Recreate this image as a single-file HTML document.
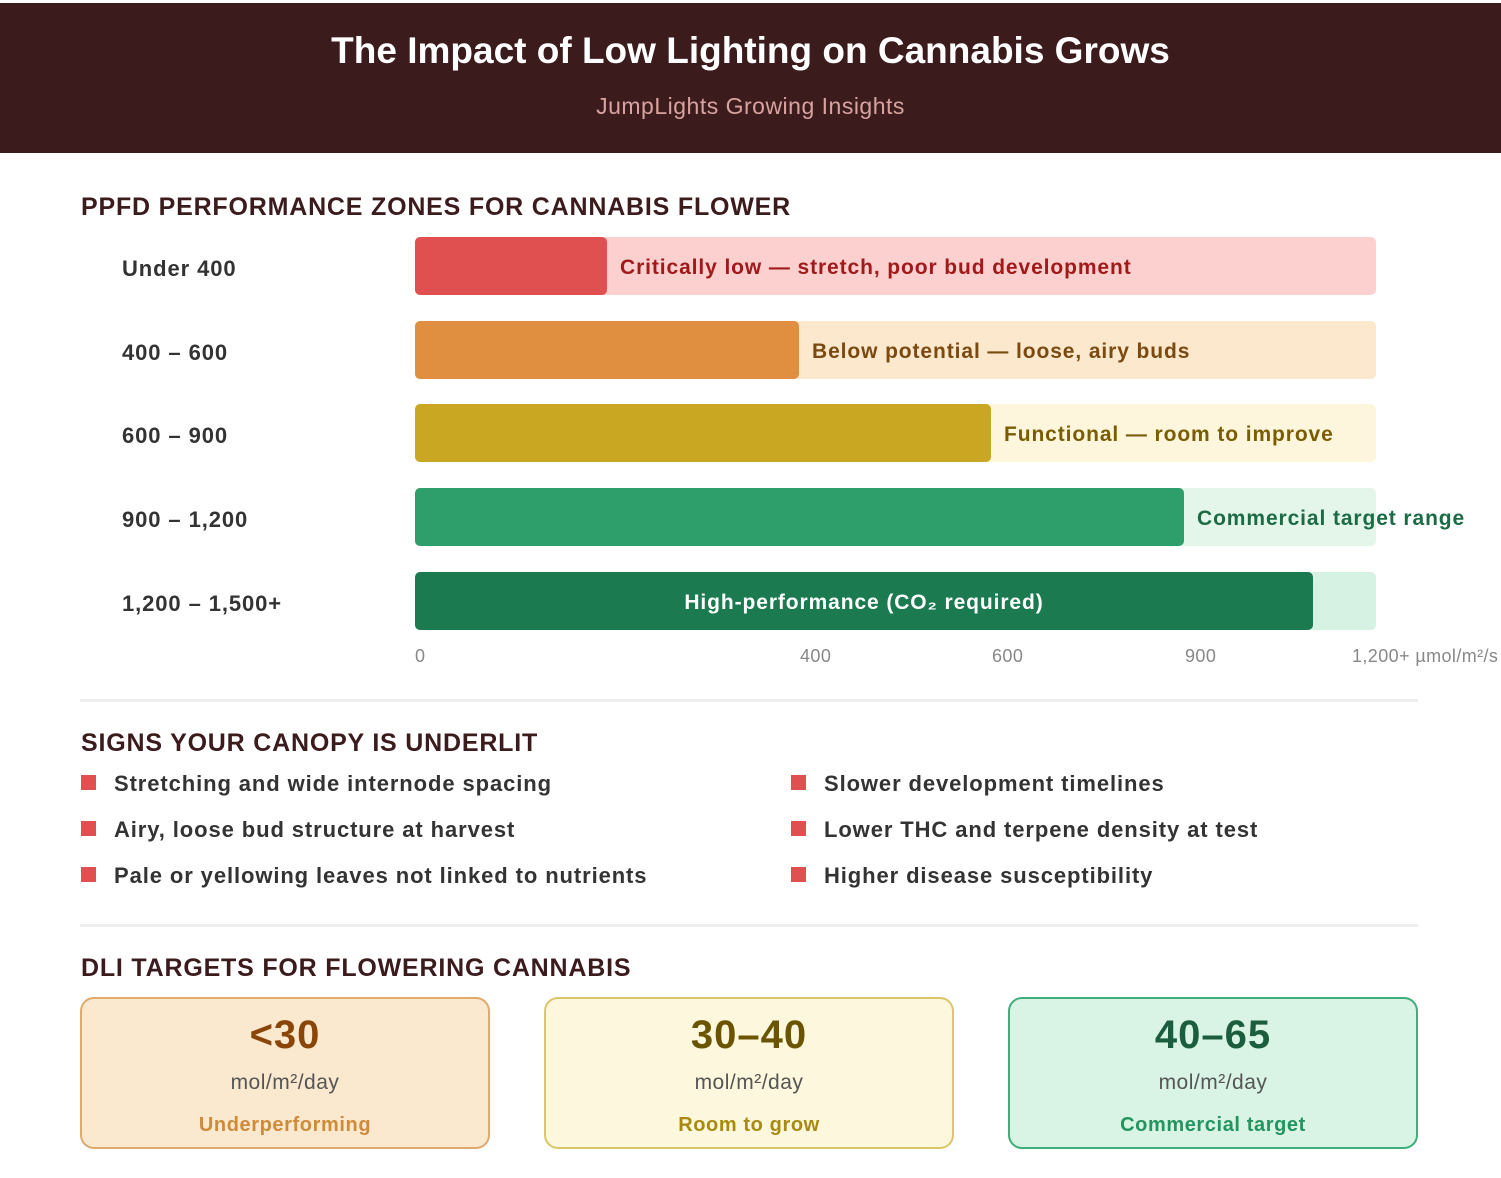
<!DOCTYPE html>
<html><head><style>
body{margin:0;width:1501px;height:1178px;background:#fff;font-family:"Liberation Sans",sans-serif;position:relative;overflow:hidden}
.a{position:absolute}
.hdr{left:0;top:3px;width:1501px;height:150px;background:#3c1b1d}
.t{left:0;width:1501px;text-align:center}
.sec{left:81px;font-size:25px;font-weight:bold;color:#3c1b1d;letter-spacing:0.8px}
.lab{left:122px;font-size:22px;font-weight:bold;color:#333;letter-spacing:0.9px}
.bar{left:415px;width:961px;height:58px;border-radius:5px}
.fill{left:0;top:0;height:58px;border-radius:5px}
.bt{font-size:21px;font-weight:bold;top:19px;white-space:nowrap;letter-spacing:0.9px}
.ax{top:646px;font-size:18px;color:#888;letter-spacing:0.4px}
.b{font-size:22px;font-weight:bold;color:#333;letter-spacing:0.9px}
.b:before{content:"";position:absolute;left:-33px;top:4px;width:15px;height:15px;background:#e05050}
.card{top:997px;width:406px;height:148px;border-radius:14px;border:2px solid;text-align:center}
.big{font-size:40px;font-weight:bold;margin-top:14px;letter-spacing:1px}
.u{font-size:21px;color:#555;margin-top:13px;letter-spacing:0.5px}
.s{font-size:20px;font-weight:bold;margin-top:19px;letter-spacing:0.6px}
.hr{left:80px;width:1338px;height:3px;background:#eee}
</style></head><body>
<div class="a hdr"></div>
<div class="a t" style="top:30px;font-size:37px;font-weight:bold;color:#fff">The Impact of Low Lighting on Cannabis Grows</div>
<div class="a t" style="top:93px;font-size:23px;color:#d9a3a0;letter-spacing:0.5px">JumpLights Growing Insights</div>

<div class="a sec" style="top:193px">PPFD PERFORMANCE ZONES FOR CANNABIS FLOWER</div>

<div class="a lab" style="top:256px">Under 400</div>
<div class="a bar" style="top:237px;background:#fdd0d0"><div class="a fill" style="width:192px;background:#e05050"></div><div class="a bt" style="left:205px;color:#a01a1a">Critically low — stretch, poor bud development</div></div>

<div class="a lab" style="top:340px">400 – 600</div>
<div class="a bar" style="top:321px;background:#fce8cc"><div class="a fill" style="width:384px;background:#e08f40"></div><div class="a bt" style="left:397px;color:#7a4a10">Below potential — loose, airy buds</div></div>

<div class="a lab" style="top:423px">600 – 900</div>
<div class="a bar" style="top:404px;background:#fdf6dc"><div class="a fill" style="width:576px;background:#c9a722"></div><div class="a bt" style="left:589px;color:#7a5d00">Functional — room to improve</div></div>

<div class="a lab" style="top:507px">900 – 1,200</div>
<div class="a bar" style="top:488px;background:#e4f5ea"><div class="a fill" style="width:769px;background:#2e9e6b"></div><div class="a bt" style="left:782px;color:#1b6b45">Commercial target range</div></div>

<div class="a lab" style="top:591px">1,200 – 1,500+</div>
<div class="a bar" style="top:572px;background:#d6f2e3"><div class="a fill" style="width:898px;background:#1c7a50"></div><div class="a bt" style="left:0;width:898px;text-align:center;color:#fff">High-performance (CO₂ required)</div></div>

<div class="a ax" style="left:415px">0</div>
<div class="a ax" style="left:800px">400</div>
<div class="a ax" style="left:992px">600</div>
<div class="a ax" style="left:1185px">900</div>
<div class="a ax" style="left:1352px;white-space:nowrap">1,200+ µmol/m²/s</div>

<div class="a hr" style="top:699px"></div>
<div class="a sec" style="top:729px">SIGNS YOUR CANOPY IS UNDERLIT</div>
<div class="a b" style="left:114px;top:771px">Stretching and wide internode spacing</div>
<div class="a b" style="left:114px;top:817px">Airy, loose bud structure at harvest</div>
<div class="a b" style="left:114px;top:863px">Pale or yellowing leaves not linked to nutrients</div>
<div class="a b" style="left:824px;top:771px">Slower development timelines</div>
<div class="a b" style="left:824px;top:817px">Lower THC and terpene density at test</div>
<div class="a b" style="left:824px;top:863px">Higher disease susceptibility</div>

<div class="a hr" style="top:924px"></div>
<div class="a sec" style="top:954px">DLI TARGETS FOR FLOWERING CANNABIS</div>

<div class="a card" style="left:80px;background:#fbe9cf;border-color:#dfaa6c"><div class="big" style="color:#8a4508">&lt;30</div><div class="u">mol/m²/day</div><div class="s" style="color:#cf8a3a">Underperforming</div></div>
<div class="a card" style="left:544px;background:#fdf7dd;border-color:#dcc66a"><div class="big" style="color:#6b5400">30–40</div><div class="u">mol/m²/day</div><div class="s" style="color:#a88a10">Room to grow</div></div>
<div class="a card" style="left:1008px;background:#d9f3e5;border-color:#3fae7a"><div class="big" style="color:#1b5e3e">40–65</div><div class="u">mol/m²/day</div><div class="s" style="color:#22955f">Commercial target</div></div>
</body></html>
